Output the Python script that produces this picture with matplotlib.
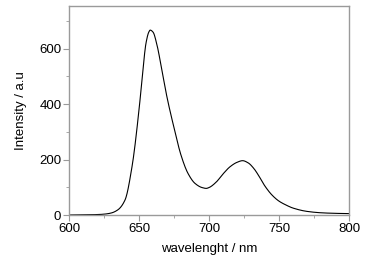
import numpy as np
import matplotlib
matplotlib.use("Agg")
import matplotlib.pyplot as plt
from matplotlib.ticker import MultipleLocator

# emission spectrum
wavelength = [600, 610, 620, 625, 630, 635, 640, 645, 650, 653, 655, 657, 658,
              660, 663, 665, 670, 675, 680, 685, 690, 695, 698, 700, 705, 710,
              715, 720, 724, 728, 732, 735, 740, 745, 750, 755, 760, 770, 780,
              790, 800]
intensity = [0, 0.5, 1.5, 3, 7, 19, 54, 174, 379, 535, 620, 660, 667,
             660, 610, 560, 425, 315, 216, 150, 114, 99, 96, 99, 118, 148,
             174, 190, 196, 188, 168, 146, 104, 72, 50, 36, 25, 13, 8,
             6, 5]

plt.rcParams["font.family"] = ["Liberation Sans", "DejaVu Sans"]
GREY = "#9a9a9a"


def hermite(x, y, n=20):
    # monotone cubic (Fritsch-Carlson) through the read points
    x, y = np.asarray(x, float), np.asarray(y, float)
    h = np.diff(x); d = np.diff(y) / h
    m = np.zeros_like(y)
    m[0], m[-1] = d[0], d[-1]
    for i in range(1, len(x) - 1):
        if d[i - 1] * d[i] > 0:
            w1, w2 = 2 * h[i] + h[i - 1], h[i] + 2 * h[i - 1]
            m[i] = (w1 + w2) / (w1 / d[i - 1] + w2 / d[i])
    xs, ys = [], []
    for i in range(len(x) - 1):
        t = np.linspace(0, 1, n, endpoint=False)
        h00 = 2*t**3 - 3*t**2 + 1; h10 = t**3 - 2*t**2 + t
        h01 = -2*t**3 + 3*t**2;    h11 = t**3 - t**2
        xs.append(x[i] + t * h[i])
        ys.append(h00*y[i] + h10*h[i]*m[i] + h01*y[i+1] + h11*h[i]*m[i+1])
    return np.append(np.concatenate(xs), x[-1]), np.append(np.concatenate(ys), y[-1])


fig = plt.figure(figsize=(3.78, 2.59), dpi=100)
ax = fig.add_axes([69 / 378, 44 / 259, 280 / 378, 209 / 259])

xs, ys = hermite(wavelength, intensity)
ax.plot(xs, ys, color="black", lw=0.8)

ax.set_xlim(600, 800)
ax.set_ylim(0, 754)
ax.xaxis.set_major_locator(MultipleLocator(50))
ax.xaxis.set_minor_locator(MultipleLocator(25))
ax.yaxis.set_major_locator(MultipleLocator(200))
ax.yaxis.set_minor_locator(MultipleLocator(100))
ax.tick_params(which="both", direction="out", color=GREY, labelsize=9.5,
               top=False, right=False, pad=1.5)
ax.tick_params(which="major", length=4)
ax.tick_params(which="minor", length=2.5)
for s in ax.spines.values():
    s.set_color(GREY)
    s.set_linewidth(1)

ax.set_xlabel("wavelenght / nm", fontsize=9.5, labelpad=6)
ax.set_ylabel("Intensity / a.u", fontsize=9.5, labelpad=9)

fig.savefig("out.png", dpi=100)
